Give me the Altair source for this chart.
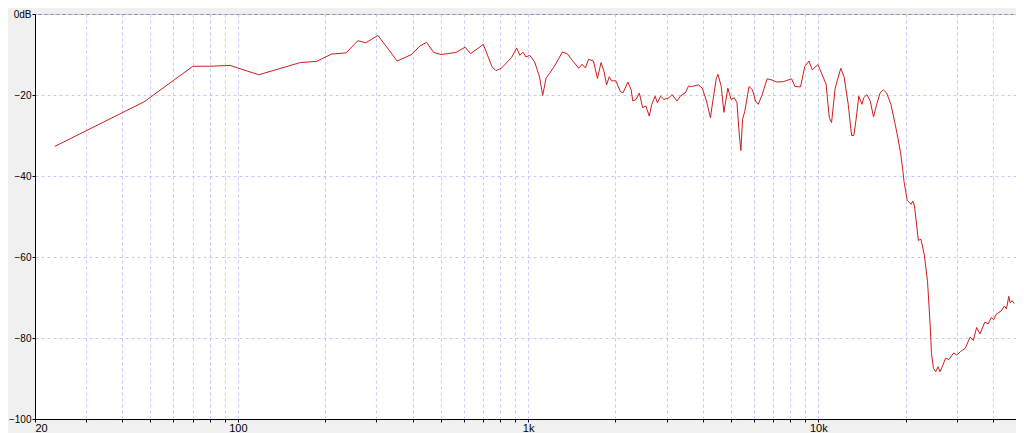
import altair as alt
import pandas as pd

freq_hz = [
    23.4, 47.5, 70, 80, 94, 118, 164, 187, 210, 236, 259, 276, 304, 354, 397,
    424, 447, 473, 502, 564, 607, 634, 701, 751, 775, 812, 878, 913, 937, 961,
    983, 1013, 1053, 1095, 1123, 1153, 1230, 1313, 1365, 1419, 1495, 1534, 1576,
    1616, 1680, 1734, 1784, 1827, 1864, 1904, 1939, 2006, 2079, 2123, 2208, 2265,
    2296, 2355, 2418, 2481, 2546, 2615, 2669, 2740, 2790, 2862, 2939, 3056, 3135,
    3260, 3345, 3478, 3571, 3664, 3860, 3983, 4119, 4249, 4339, 4453, 4512, 4630,
    4729, 4879, 5006, 5136, 5245, 5340, 5411, 5483, 5583, 5773, 5928, 6081, 6211,
    6408, 6662, 6927, 7202, 7585, 8094, 8305, 8685, 8981, 9286, 9535, 9961, 10094,
    10635, 10913, 11111, 11435, 11955, 12270, 12681, 13023, 13258, 13498, 13786,
    14144, 14333, 14708, 15103, 15497, 15899, 16325, 16752, 17189, 17790, 18352,
    18832, 19231, 19579, 19733, 20248, 20889, 21170, 21450, 22130, 22583, 23189,
    23790, 24299, 24547, 24934, 25380, 25863, 26267, 26743, 27441, 28176, 29295,
    30000, 30846, 31500, 32070, 33343, 34237, 34800, 35131, 36048, 37480, 38484,
    39490, 40200, 41059, 42692, 43806, 44500, 45335, 45797, 46600, 47352,
]
level_db = [
    -32.7, -21.7, -12.9, -12.9, -12.7, -15.0, -12.0, -11.7, -9.9, -9.6, -6.6, -7.1,
    -5.3, -11.6, -10.0, -7.9, -7.0, -9.5, -10.0, -9.5, -8.2, -9.8, -7.5, -13.0,
    -14.0, -13.3, -10.7, -8.4, -10.2, -9.4, -10.6, -10.2, -11.8, -15.5, -20.1,
    -15.9, -13.0, -9.4, -9.8, -11.4, -13.4, -12.4, -13.3, -11.2, -11.6, -15.9,
    -12.0, -14.2, -17.5, -15.5, -16.5, -16.5, -19.1, -19.5, -16.8, -18.7, -21.5,
    -21.1, -19.5, -23.1, -22.7, -25.2, -22.3, -20.3, -21.9, -20.3, -21.1, -20.7,
    -19.9, -21.5, -20.3, -19.5, -17.8, -17.9, -17.5, -18.3, -21.5, -25.6, -21.1,
    -15.9, -14.9, -17.9, -24.3, -18.3, -21.1, -20.7, -21.9, -29.6, -33.7, -26.0,
    -24.0, -17.9, -18.7, -21.5, -22.3, -19.9, -16.0, -16.3, -16.8, -16.7, -16.0,
    -17.9, -18.0, -13.0, -11.6, -13.8, -12.5, -13.4, -17.3, -25.6, -26.8, -18.3,
    -13.4, -15.5, -22.3, -30.0, -30.0, -26.0, -20.3, -22.3, -20.7, -19.9, -21.5,
    -25.4, -22.3, -19.5, -18.7, -19.5, -22.3, -26.8, -30.8, -34.5, -38.9, -41.3,
    -46.0, -47.0, -46.2, -47.4, -55.9, -55.6, -59.5, -66.0, -77.0, -83.8, -87.5,
    -88.3, -87.1, -88.3, -87.1, -85.0, -85.3, -83.7, -84.2, -83.4, -82.9, -82.6,
    -79.8, -80.6, -78.5, -77.4, -79.0, -76.1, -76.5, -74.9, -75.5, -74.1, -73.3,
    -72.1, -72.8, -69.7, -71.3, -70.8, -71.5,
]

x_grid = [20, 30, 40, 50, 60, 70, 80, 90,
          100, 200, 300, 400, 500, 600, 700, 800, 900,
          1000, 2000, 3000, 4000, 5000, 6000, 7000, 8000, 9000,
          10000, 20000, 30000, 40000]
y_ticks = [-100, -80, -60, -40, -20, 0]

df = pd.DataFrame({"f": freq_hz, "db": level_db})

font = "Liberation Sans"
grid_col = "#c8c8f8"

chart = alt.Chart(df).mark_line(color="#d01c1c", strokeWidth=1, clip=True).encode(
    x=alt.X(
        "f:Q",
        scale=alt.Scale(type="log", domain=[20, 48000], nice=False),
        axis=alt.Axis(
            values=x_grid,
            labelExpr="datum.value == 20 ? '20' : datum.value == 100 ? '100' : datum.value == 1000 ? '1k' : datum.value == 10000 ? '10k' : ''",
            title=None, grid=True, gridDash=[3, 3], gridColor=grid_col, gridWidth=1,
            tickColor="#000000", tickSize=3, domainColor="#000000",
            labelFont=font, labelFontSize=11, labelColor="#000000",
            labelOverlap=False, labelFlush=True, labelPadding=0,
        ),
    ),
    y=alt.Y(
        "db:Q",
        scale=alt.Scale(domain=[-100, 0], nice=False),
        axis=alt.Axis(
            values=y_ticks,
            labelExpr="datum.value == 0 ? '0dB' : datum.label",
            title=None, grid=True, gridDash=[3, 3], gridColor=grid_col, gridWidth=1,
            tickColor="#000000", tickSize=3, domainColor="#000000",
            labelFont=font, labelFontSize=10, labelColor="#000000",
            labelOverlap=False, labelPadding=1,
        ),
    ),
).properties(
    width=1008, height=425,
    autosize=alt.AutoSizeParams(type="fit", contains="padding"),
    padding={"left": 0, "top": 1, "right": 0, "bottom": 0},
    background="#f0f0f0",
).configure_view(fill="#ffffff", stroke="#8c8c8c", strokeWidth=1)

chart.save("out.html", embed_options={"renderer": "svg", "actions": False})
